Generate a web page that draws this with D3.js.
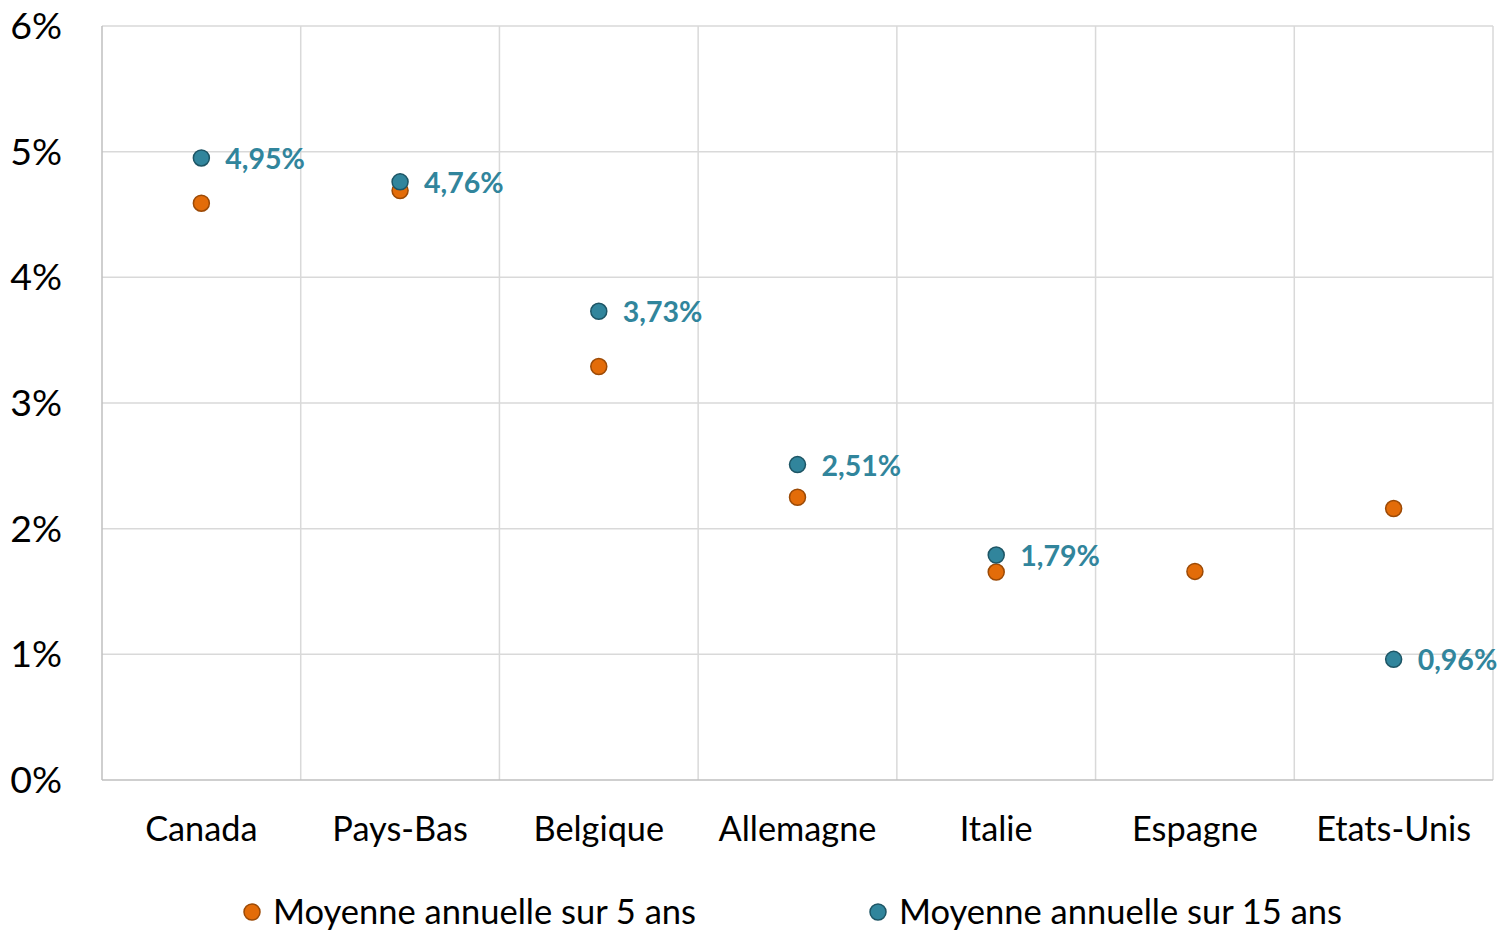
<!DOCTYPE html>
<html><head><meta charset="utf-8">
<script src="https://cdn.jsdelivr.net/npm/d3@7"></script>
<style>body{margin:0;background:#fff;} svg{display:block;}</style>
</head><body>
<svg id="c" width="1500" height="930"></svg>
<script>
const categories = ["Canada","Pays-Bas","Belgique","Allemagne","Italie","Espagne","Etats-Unis"];
const avg5 = [4.59, 4.69, 3.29, 2.25, 1.655, 1.66, 2.16];
const avg15 = [4.95, 4.76, 3.73, 2.51, 1.79, null, 0.96];
const labels15 = ["4,95%","4,76%","3,73%","2,51%","1,79%",null,"0,96%"];
const yTicks = [0,1,2,3,4,5,6];
const seriesNames = ["Moyenne annuelle sur 5 ans","Moyenne annuelle sur 15 ans"];

const orange = "#E36C09", orangeStroke = "#9c4a06";
const teal = "#31859C", tealStroke = "#1d5565";
const font = "Lato, 'Open Sans', sans-serif";

const svg = d3.select("#c");
const L = 102, R = 1493, T = 26, B = 780;
const x = d3.scaleBand().domain(categories).range([L, R]);
const y = d3.scaleLinear().domain([0, 6]).range([B, T]);

// horizontal grid
svg.append("g").selectAll("line").data(yTicks.filter(d => d > 0)).join("line")
  .attr("x1", L).attr("x2", R).attr("y1", d => y(d)).attr("y2", d => y(d))
  .attr("stroke", "#d9d9d9").attr("stroke-width", 1.5);
// vertical grid at band boundaries
const bounds = categories.map(c => x(c) + x.bandwidth());
svg.append("g").selectAll("line").data(bounds).join("line")
  .attr("x1", d => d).attr("x2", d => d).attr("y1", T).attr("y2", B)
  .attr("stroke", "#d9d9d9").attr("stroke-width", 1.5);
// axes lines
svg.append("line").attr("x1", L).attr("x2", L).attr("y1", T).attr("y2", B).attr("stroke", "#bfbfbf").attr("stroke-width", 1.5);
svg.append("line").attr("x1", L).attr("x2", R).attr("y1", B).attr("y2", B).attr("stroke", "#bfbfbf").attr("stroke-width", 1.5);

// y tick labels
svg.append("g").selectAll("text").data(yTicks).join("text")
  .attr("x", 62).attr("y", d => y(d)).attr("dy", "0.35em")
  .attr("text-anchor", "end").attr("font-family", font).attr("font-size", 37.5).attr("fill", "#000")
  .text(d => d + "%");

// category labels
svg.append("g").selectAll("text").data(categories).join("text")
  .attr("x", d => x(d) + x.bandwidth() / 2).attr("y", 829).attr("dy", "0.35em")
  .attr("text-anchor", "middle").attr("font-family", font).attr("font-size", 34.3).attr("fill", "#000")
  .text(d => d);

const cx = i => x(categories[i]) + x.bandwidth() / 2;
// orange points
svg.append("g").selectAll("circle").data(avg5).join("circle")
  .attr("cx", (d, i) => cx(i)).attr("cy", d => y(d)).attr("r", 8)
  .attr("fill", orange).attr("stroke", orangeStroke).attr("stroke-width", 1.5);
// teal points
const d15 = avg15.map((v, i) => ({v, i})).filter(d => d.v != null);
svg.append("g").selectAll("circle").data(d15).join("circle")
  .attr("cx", d => cx(d.i)).attr("cy", d => y(d.v)).attr("r", 8)
  .attr("fill", teal).attr("stroke", tealStroke).attr("stroke-width", 1.5);
svg.append("g").selectAll("text").data(d15).join("text")
  .attr("x", d => cx(d.i) + 24).attr("y", d => y(d.v) + 1).attr("dy", "0.35em")
  .attr("font-family", font).attr("font-weight", "bold").attr("font-size", 28.5).attr("fill", teal)
  .text(d => labels15[d.i]);

// legend
const leg = [{x: 252, c: orange, s: orangeStroke, t: seriesNames[0]}, {x: 878, c: teal, s: tealStroke, t: seriesNames[1]}];
const lg = svg.append("g").selectAll("g").data(leg).join("g");
lg.append("circle").attr("cx", d => d.x).attr("cy", 912).attr("r", 8)
  .attr("fill", d => d.c).attr("stroke", d => d.s).attr("stroke-width", 1.5);
lg.append("text").attr("x", d => d.x + 21).attr("y", 912).attr("dy", "0.35em")
  .attr("font-family", font).attr("font-size", 34.5).attr("fill", "#000").text(d => d.t);
</script>
</body></html>
